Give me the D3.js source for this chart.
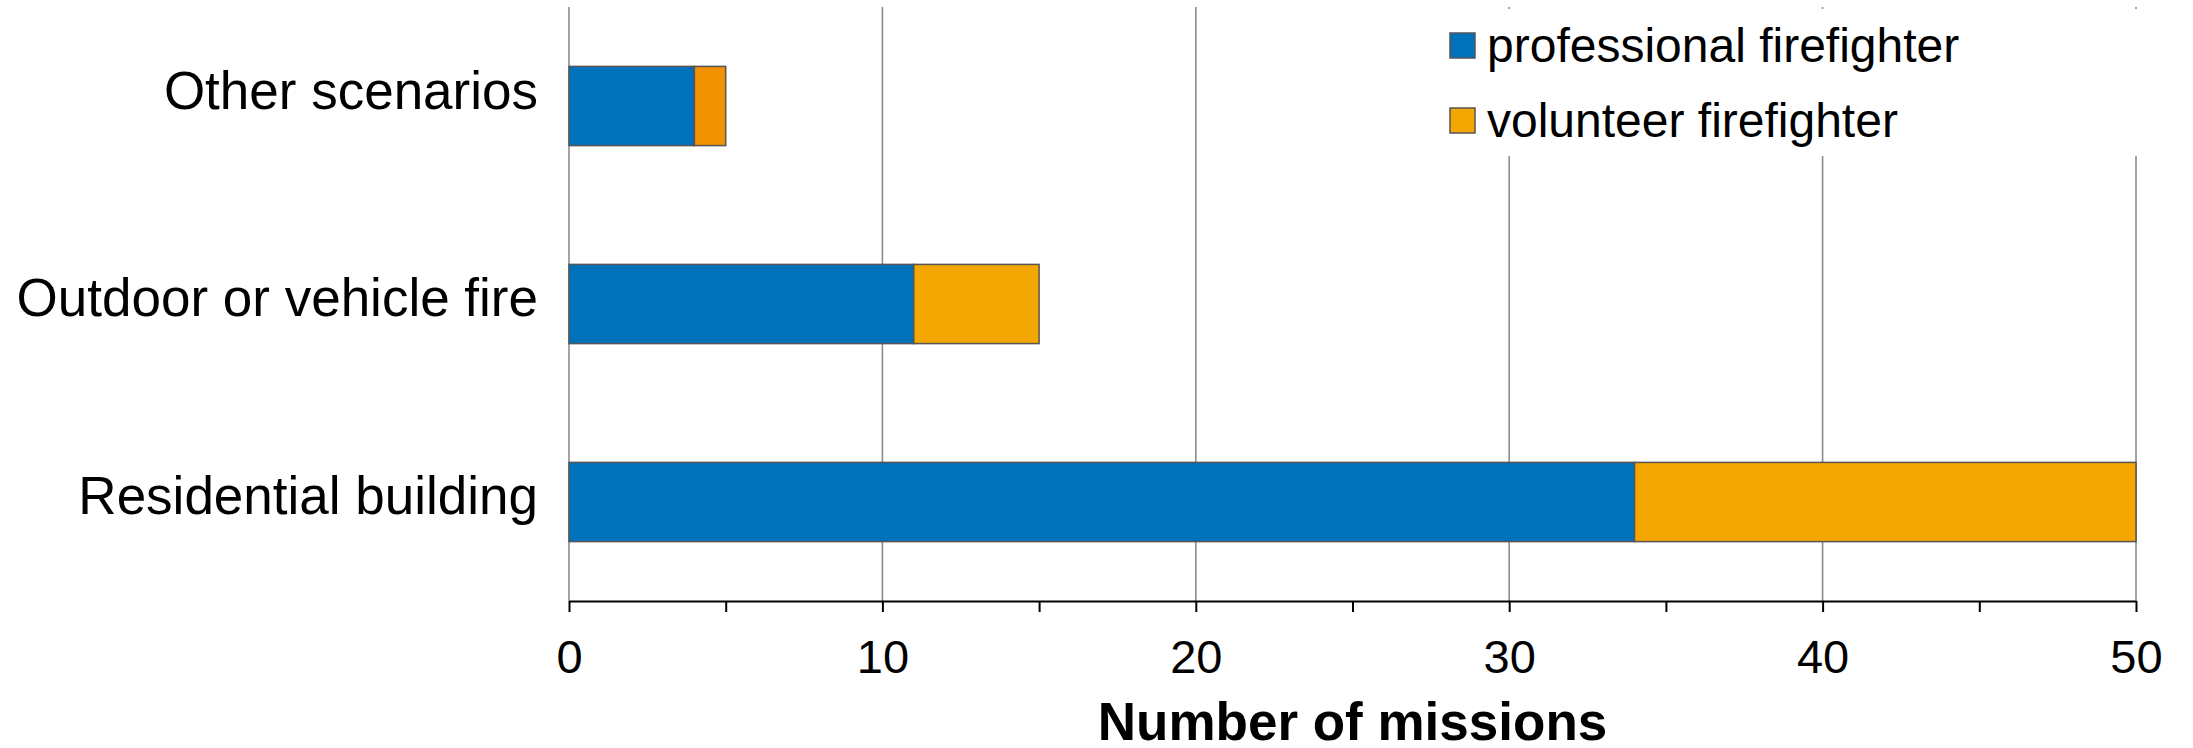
<!DOCTYPE html>
<html>
<head>
<meta charset="utf-8">
<script src="https://cdn.jsdelivr.net/npm/d3@7"></script>
<style>
  html, body { margin: 0; padding: 0; background: #fff; }
  svg { display: block; }
  text { font-family: "Liberation Sans", Arial, sans-serif; fill: #000; }
</style>
</head>
<body>
<svg id="chart" width="2193" height="748"></svg>
<script>
// Mission counts by scenario, split by firefighter type
const categories = ["Other scenarios", "Outdoor or vehicle fire", "Residential building"];
const professional = [4, 11, 34];
const volunteer = [1, 4, 16];
const seriesNames = ["professional firefighter", "volunteer firefighter"];
const xTicks = [0, 5, 10, 15, 20, 25, 30, 35, 40, 45, 50];
const xTitle = "Number of missions";

// Fill colours
const proColor = "#0072BC";
const volColor = "#F4A700";
const volColorByCategory = ["#F29200", "#F4A700", "#F4A700"];
// vertical nudge of each category label (px)
const labelNudge = [-9, 0, 0];

const plotLeft = 569, plotRight = 2136, plotTop = 7, plotBottom = 601;

const svg = d3.select("#chart");

const x = d3.scaleLinear().domain([0, 50]).range([plotLeft, plotRight]);
const y = d3.scaleBand().domain(categories).range([plotTop, plotBottom])
  .paddingInner(0.6).paddingOuter(0.3);

// vertical grid lines
svg.append("g").selectAll("line")
  .data(x.ticks(5))
  .join("line")
  .attr("x1", d => x(d)).attr("x2", d => x(d))
  .attr("y1", plotTop).attr("y2", plotBottom)
  .attr("stroke", "#8c8c8c")
  .attr("stroke-width", 1.6);

// stacked bars
const rows = categories.map((c, i) => ({ category: c, pro: professional[i], vol: volunteer[i], idx: i }));
const layers = d3.stack().keys(["pro", "vol"])(rows);

const barG = svg.append("g");
layers.forEach((layer, li) => {
  barG.append("g").selectAll("rect")
    .data(layer)
    .join("rect")
    .attr("x", d => x(d[0]))
    .attr("y", d => y(d.data.category))
    .attr("width", d => x(d[1]) - x(d[0]))
    .attr("height", y.bandwidth())
    .attr("fill", d => li === 0 ? proColor : volColorByCategory[d.data.idx])
    .attr("stroke", "#555")
    .attr("stroke-width", 1.5);
});

// x axis
const xAxis = d3.axisBottom(x)
  .tickValues(xTicks)
  .tickSize(11)
  .tickSizeOuter(0)
  .tickPadding(28)
  .tickFormat(d => d % 10 === 0 ? d : "");

const axG = svg.append("g")
  .attr("transform", `translate(0,${plotBottom})`)
  .call(xAxis);
axG.select(".domain").attr("stroke", "#000").attr("stroke-width", 2);
axG.selectAll(".tick line").attr("stroke", "#000").attr("stroke-width", 2);
axG.selectAll(".tick text")
  .style("font-family", "'Liberation Sans', Arial, sans-serif")
  .style("font-size", "47px")
  .attr("fill", "#000");

// category labels
svg.append("g").selectAll("text")
  .data(categories)
  .join("text")
  .attr("x", plotLeft - 31)
  .attr("y", (d, i) => y(d) + y.bandwidth() / 2 + 12 + labelNudge[i])
  .attr("text-anchor", "end")
  .style("font-size", "53px")
  .text(d => d);

// axis title
svg.append("text")
  .attr("x", (plotLeft + plotRight) / 2)
  .attr("y", 740)
  .attr("text-anchor", "middle")
  .style("font-size", "53px")
  .style("font-weight", "bold")
  .text(xTitle);

// legend
const legend = svg.append("g");
legend.append("rect")
  .attr("x", 1430).attr("y", 9)
  .attr("width", 720).attr("height", 147)
  .attr("fill", "#fff");

const legendColors = [proColor, volColor];
const lg = legend.selectAll("g.item")
  .data(seriesNames)
  .join("g")
  .attr("class", "item")
  .attr("transform", (d, i) => `translate(1450,${33 + i * 75})`);
lg.append("rect")
  .attr("width", 25).attr("height", 25)
  .attr("fill", (d, i) => legendColors[i])
  .attr("stroke", "#555")
  .attr("stroke-width", 1.5);
lg.append("text")
  .attr("x", 37)
  .attr("y", 29)
  .style("font-size", "48px")
  .text(d => d);
</script>
</body>
</html>
